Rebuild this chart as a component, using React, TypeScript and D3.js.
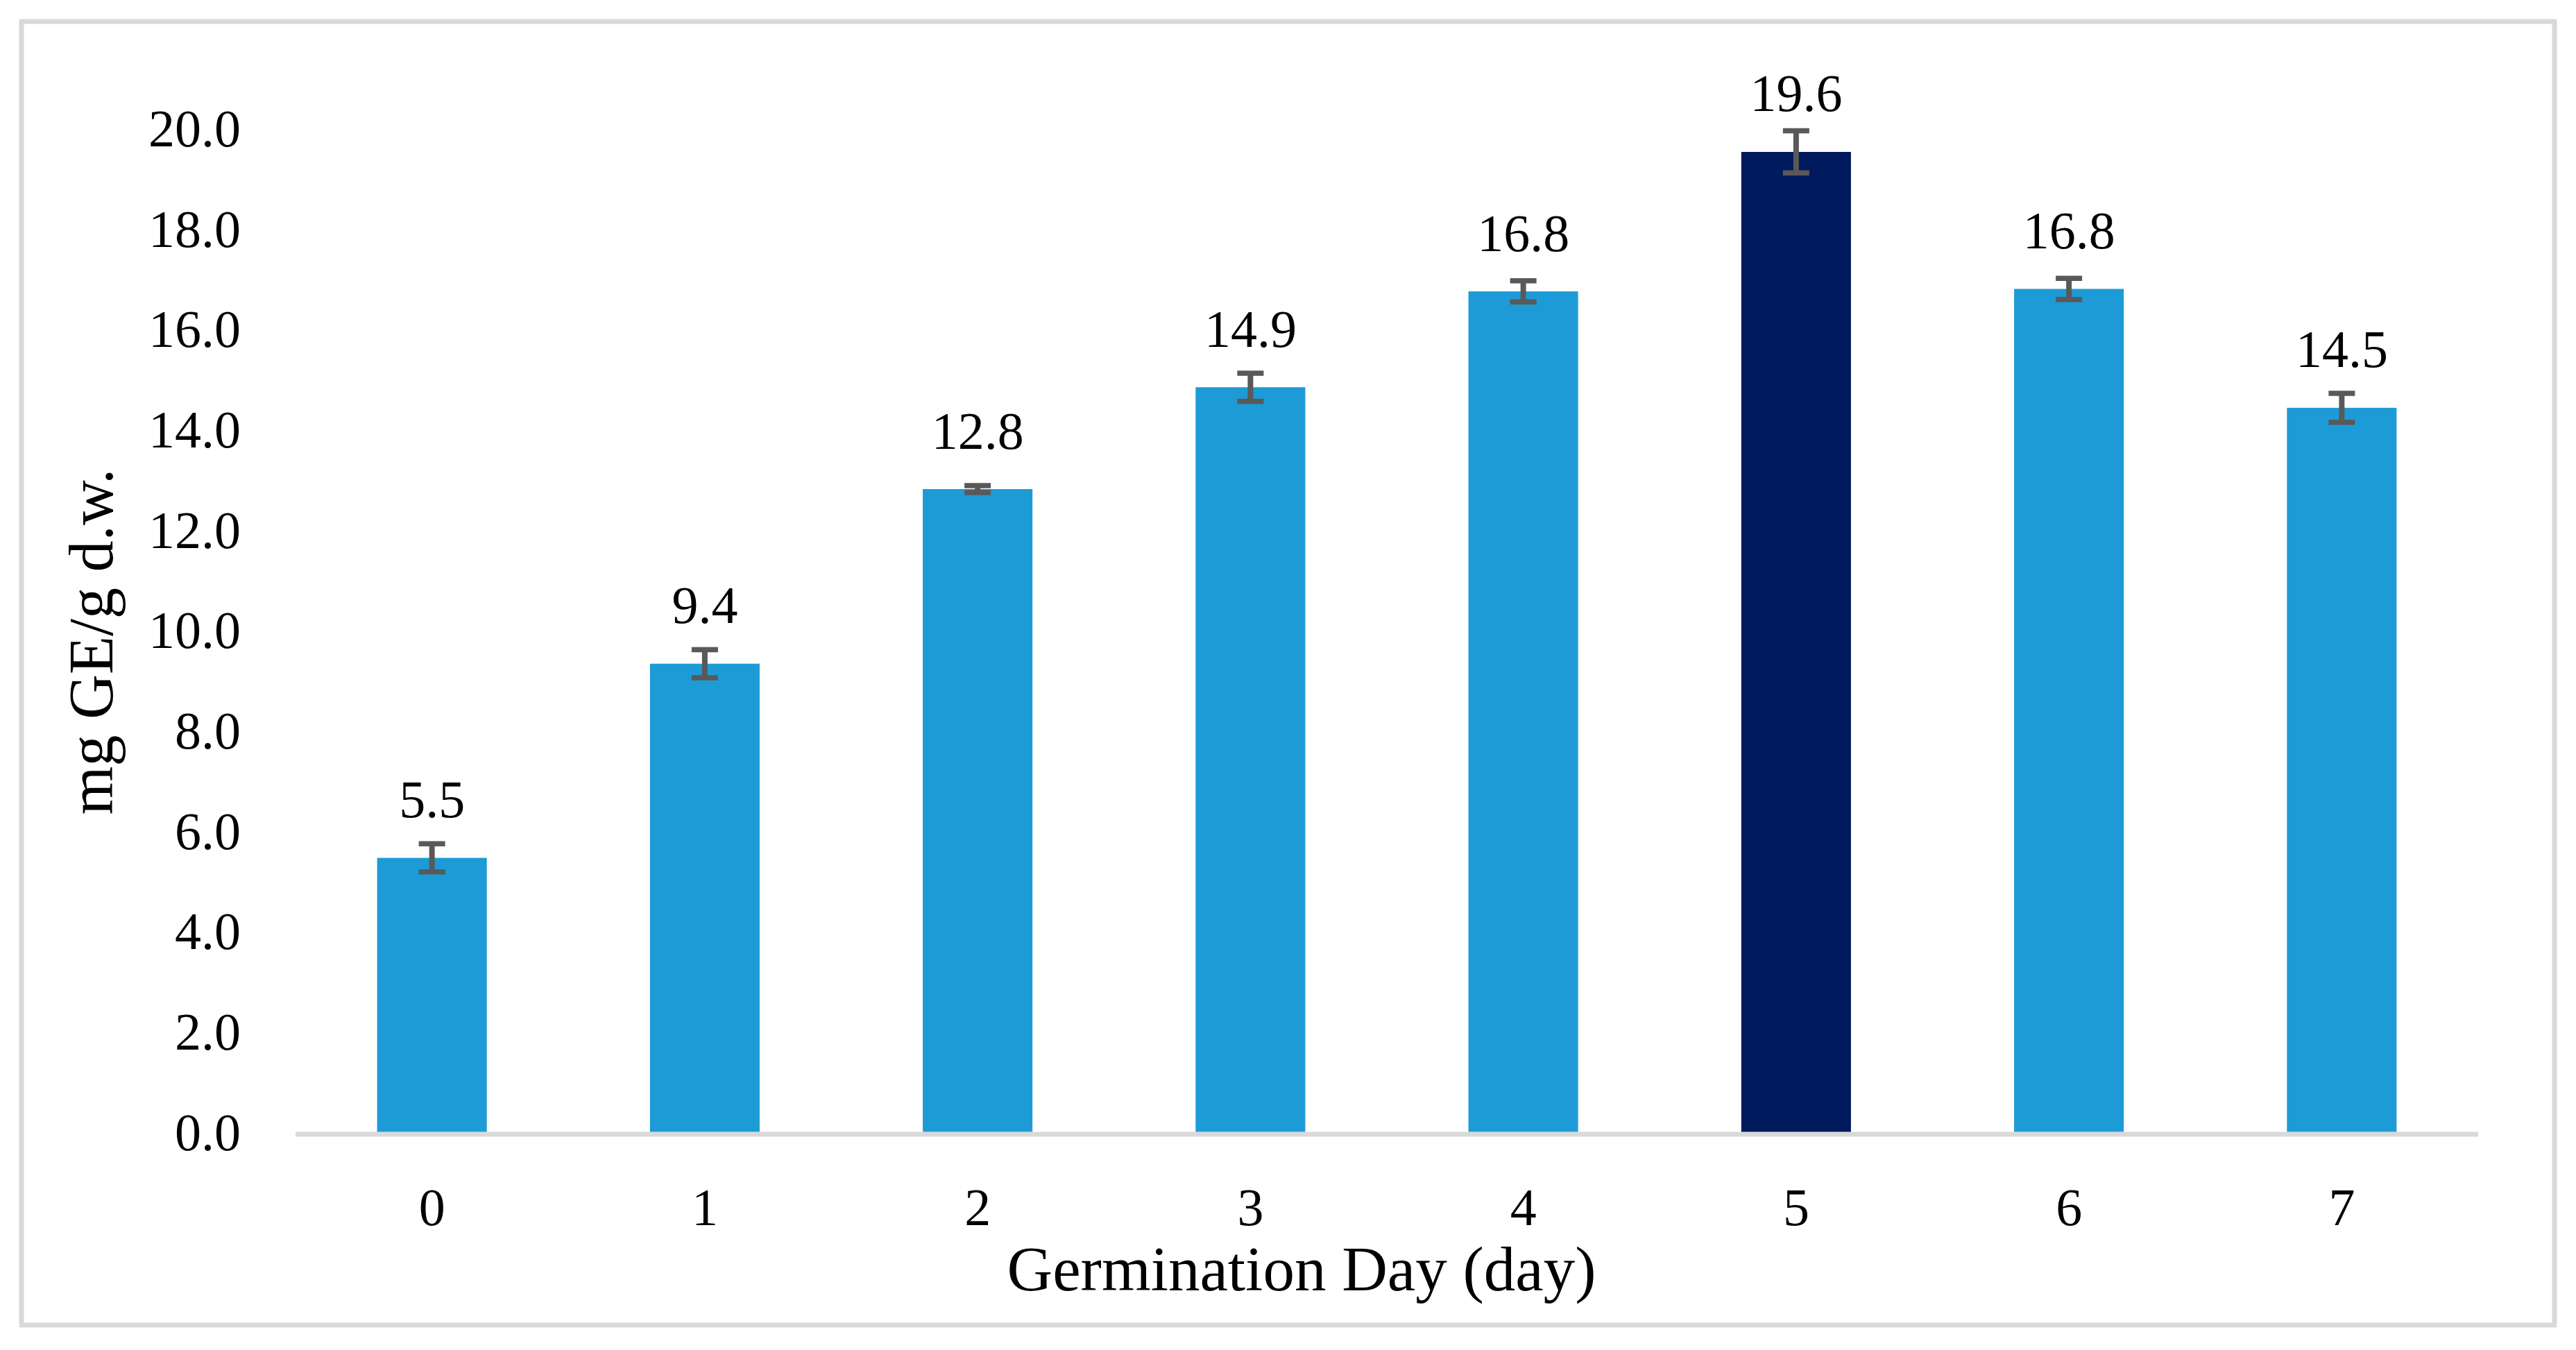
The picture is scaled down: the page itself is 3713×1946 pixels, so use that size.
import React from 'react';
import * as d3 from 'd3';

const days = ['0', '1', '2', '3', '4', '5', '6', '7'];
const values = [5.46, 9.33, 12.81, 14.84, 16.75, 19.53, 16.8, 14.43];
const errors = [0.28, 0.28, 0.07, 0.28, 0.21, 0.42, 0.21, 0.29];
const valueLabels = ['5.5', '9.4', '12.8', '14.9', '16.8', '19.6', '16.8', '14.5'];
const yTicks = [0, 2, 4, 6, 8, 10, 12, 14, 16, 18, 20];
const highlightDay = '5';
const xTitle = 'Germination Day (day)';
const yTitle = 'mg GE/g d.w.';

const W = 3713;
const H = 1946;
const FONT = '"Liberation Serif", "Times New Roman", serif';

export default function App() {
  const x = d3.scaleBand<string>().domain(days).range([426, 3572]).padding(0);
  const y = d3.scaleLinear().domain([0, 20]).range([1631.5, 185]);
  const barW = x.bandwidth() * 0.402;
  const capW = 38;

  return (
    <svg
      width={W}
      height={H}
      viewBox={`0 0 ${W} ${H}`}
      style={{ position: 'absolute', left: 0, top: 0, background: '#fff' }}
    >
      <rect x={0} y={0} width={W} height={H} fill="#fff" />
      <rect x={31} y={31} width={3651} height={1879} fill="none" stroke="#d9d9d9" strokeWidth={7} />

      {/* y tick labels */}
      {yTicks.map((t) => (
        <text
          key={t}
          x={347}
          y={y(t) + 26}
          textAnchor="end"
          fontFamily={FONT}
          fontSize={76}
          fill="#000"
        >
          {t.toFixed(1)}
        </text>
      ))}

      {/* x axis line */}
      <line x1={426} x2={3572} y1={1635} y2={1635} stroke="#d9d9d9" strokeWidth={7} />

      {/* bars */}
      {days.map((d, i) => {
        const cx = (x(d) as number) + x.bandwidth() / 2;
        return (
          <rect
            key={d}
            x={cx - barW / 2}
            y={y(values[i])}
            width={barW}
            height={y(0) - y(values[i])}
            fill={d === highlightDay ? '#001A5E' : '#1D9BD7'}
          />
        );
      })}

      {/* error bars */}
      {days.map((d, i) => {
        const cx = (x(d) as number) + x.bandwidth() / 2;
        const yt = y(values[i] + errors[i]);
        const yb = y(values[i] - errors[i]);
        return (
          <g key={d} stroke="#595959" strokeWidth={7.5}>
            <line x1={cx} x2={cx} y1={yt} y2={yb} strokeWidth={8} />
            <line x1={cx - capW / 2} x2={cx + capW / 2} y1={yt} y2={yt} />
            <line x1={cx - capW / 2} x2={cx + capW / 2} y1={yb} y2={yb} />
          </g>
        );
      })}

      {/* value labels */}
      {days.map((d, i) => {
        const cx = (x(d) as number) + x.bandwidth() / 2;
        return (
          <text
            key={d}
            x={cx}
            y={y(values[i]) - 58.5}
            textAnchor="middle"
            fontFamily={FONT}
            fontSize={76}
            fill="#000"
          >
            {valueLabels[i]}
          </text>
        );
      })}

      {/* x tick labels */}
      {days.map((d) => (
        <text
          key={d}
          x={(x(d) as number) + x.bandwidth() / 2}
          y={1766}
          textAnchor="middle"
          fontFamily={FONT}
          fontSize={76}
          fill="#000"
        >
          {d}
        </text>
      ))}

      {/* axis titles */}
      <text x={1876} y={1860} textAnchor="middle" fontFamily={FONT} fontSize={91} fill="#000">
        {xTitle}
      </text>
      <text
        transform={`translate(162, 925) rotate(-90)`}
        textAnchor="middle"
        fontFamily={FONT}
        fontSize={90}
        fill="#000"
      >
        {yTitle}
      </text>
    </svg>
  );
}
